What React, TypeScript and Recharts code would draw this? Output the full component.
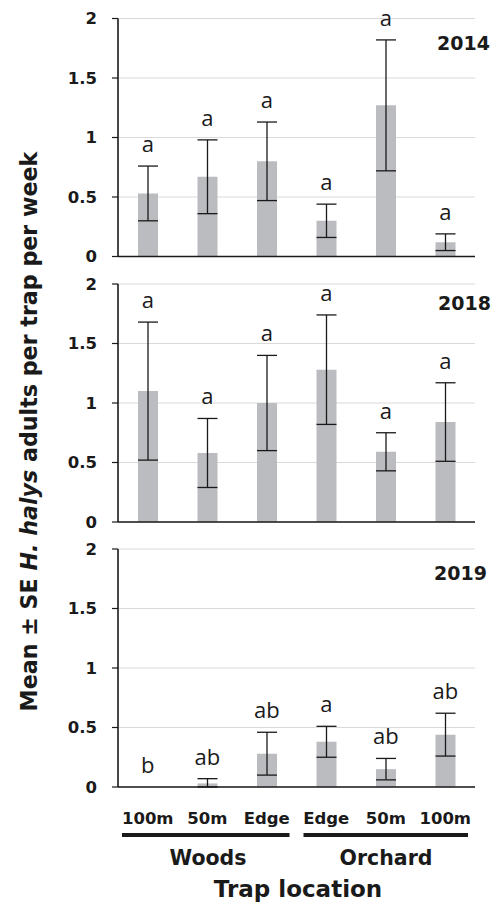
import React from "react";
import {
  ComposedChart,
  Bar,
  Line,
  XAxis,
  YAxis,
  CartesianGrid,
  ErrorBar,
  LabelList,
} from "recharts";

const categories = ["100m", "50m", "Edge", "Edge", "50m", "100m"];
const groupNames = ["Woods", "Orchard"];
const yTicks = [0, 0.5, 1, 1.5, 2];

const years = ["2014", "2018", "2019"];

const mean2014 = [0.53, 0.67, 0.8, 0.3, 1.27, 0.12];
const upper2014 = [0.76, 0.98, 1.13, 0.44, 1.82, 0.19];
const lower2014 = [0.3, 0.36, 0.47, 0.16, 0.72, 0.05];
const letters2014 = ["a", "a", "a", "a", "a", "a"];

const mean2018 = [1.1, 0.58, 1.0, 1.28, 0.59, 0.84];
const upper2018 = [1.68, 0.87, 1.4, 1.74, 0.75, 1.17];
const lower2018 = [0.52, 0.29, 0.6, 0.82, 0.43, 0.51];
const letters2018 = ["a", "a", "a", "a", "a", "a"];

const mean2019 = [0, 0.03, 0.28, 0.38, 0.15, 0.44];
const upper2019 = [0, 0.07, 0.46, 0.51, 0.24, 0.62];
const lower2019 = [0, 0.0, 0.1, 0.25, 0.06, 0.26];
const letters2019 = ["b", "ab", "ab", "a", "ab", "ab"];

const FONT = "'DejaVu Sans', sans-serif";
const W = 495;
const PLOT_LEFT = 118;
const PLOT_RIGHT_MARGIN = 20;
const PLOT_H = 238;
const BOTTOM_PAD = 12;

function buildData(means: number[], upper: number[], lower: number[], letters: string[]) {
  return categories.map((c, i) => {
    const hasErr = upper[i] > means[i] || lower[i] < means[i];
    return {
      x: i + 0.5,
      cat: c,
      mean: means[i],
      err: hasErr ? [means[i] - lower[i], upper[i] - means[i]] : null,
      hi: hasErr ? upper[i] : means[i],
      letter: letters[i],
    };
  });
}

const boundaryTicks = categories.map((_, i) => i).concat([categories.length]);
const centerTicks = categories.map((_, i) => i + 0.5);

function Panel(props: {
  data: any[];
  top: number;
  marginTop: number;
  showLabels: boolean;
}) {
  const { data, top, marginTop, showLabels } = props;
  const labH = showLabels ? 40 : 0;
  const height = marginTop + PLOT_H + 8 + labH + BOTTOM_PAD;
  return (
    <div style={{ position: "absolute", left: 0, top, width: W, height }}>
      <ComposedChart
        width={W}
        height={height}
        data={data}
        style={{ overflow: "visible" }}
        margin={{ top: marginTop, right: PLOT_RIGHT_MARGIN, left: 0, bottom: BOTTOM_PAD }}
      >
        <CartesianGrid horizontal={true} vertical={false} stroke="#d9d9d9" strokeWidth={1} />
        <XAxis
          type="number"
          dataKey="x"
          domain={[0, categories.length]}
          ticks={boundaryTicks}
          interval={0}
          tick={false}
          tickSize={7}
          height={8}
          axisLine={{ stroke: "#1a1a1a", strokeWidth: 1.6 }}
          tickLine={{ stroke: "#1a1a1a", strokeWidth: 1.2 }}
        />
        <XAxis
          xAxisId="lab"
          type="number"
          dataKey="x"
          domain={[0, categories.length]}
          ticks={centerTicks}
          interval={0}
          hide={!showLabels}
          height={labH || 1}
          axisLine={false}
          tickLine={false}
          tickSize={0}
          tickMargin={17}
          tickFormatter={(v: number) => categories[Math.floor(v)]}
          tick={{ fontFamily: FONT, fontWeight: "bold", fontSize: 16.5, fill: "#1a1a1a" }}
        />
        <YAxis
          domain={[0, 2]}
          ticks={yTicks}
          interval={0}
          width={PLOT_LEFT}
          tickSize={6}
          tickMargin={15}
          allowDataOverflow={true}
          axisLine={{ stroke: "#1a1a1a", strokeWidth: 1.6 }}
          tickLine={{ stroke: "#1a1a1a", strokeWidth: 1.2 }}
          tick={{ fontFamily: FONT, fontWeight: "bold", fontSize: 16.5, fill: "#1a1a1a" }}
        />
        <Bar dataKey="mean" fill="#bbbcbf" barSize={20} isAnimationActive={false}>
          <ErrorBar dataKey="err" direction="y" width={10} stroke="#1a1a1a" strokeWidth={1.3} />
        </Bar>
        <Line
          xAxisId="lab"
          dataKey="hi"
          stroke="none"
          dot={false}
          activeDot={false}
          isAnimationActive={false}
        >
          <LabelList
            dataKey="letter"
            position="top"
            offset={14}
            fontFamily="'Open Sans', sans-serif"
            fontSize={22}
            fill="#1a1a1a"
          />
        </Line>
      </ComposedChart>
    </div>
  );
}

export default function App() {
  const data2014 = buildData(mean2014, upper2014, lower2014, letters2014);
  const data2018 = buildData(mean2018, upper2018, lower2018, letters2018);
  const data2019 = buildData(mean2019, upper2019, lower2019, letters2019);
  const plotW = W - PLOT_LEFT - PLOT_RIGHT_MARGIN;
  const catW = plotW / categories.length;
  const woodsL = PLOT_LEFT + 4;
  const woodsR = PLOT_LEFT + 3 * catW - 7;
  const orchL = PLOT_LEFT + 3 * catW + 7;
  const orchR = PLOT_LEFT + plotW - 7;
  return (
    <div
      style={{
        position: "absolute",
        left: 0,
        top: 0,
        width: W,
        height: 906,
        background: "#fff",
        overflow: "hidden",
      }}
    >
      <Panel data={data2014} top={0} marginTop={18.5} showLabels={false} />
      <Panel data={data2018} top={264} marginTop={20} showLabels={false} />
      <Panel data={data2019} top={530} marginTop={19} showLabels={true} />
      <svg
        width={W}
        height={906}
        style={{ position: "absolute", left: 0, top: 0, pointerEvents: "none" }}
      >
        <g fontFamily={FONT} fontWeight="bold" fill="#1a1a1a">
          <text x={490} y={50} fontSize={19} textAnchor="end">{years[0]}</text>
          <text x={491} y={310} fontSize={19} textAnchor="end">{years[1]}</text>
          <text x={487} y={580} fontSize={19} textAnchor="end">{years[2]}</text>
          <line x1={woodsL} x2={woodsR} y1={835} y2={835} stroke="#1a1a1a" strokeWidth={4} />
          <line x1={orchL} x2={orchR} y1={835} y2={835} stroke="#1a1a1a" strokeWidth={4} />
          <text x={208} y={865} fontSize={20.5} textAnchor="middle">{groupNames[0]}</text>
          <text x={386} y={865} fontSize={20.5} textAnchor="middle">{groupNames[1]}</text>
          <text x={298} y={897} fontSize={23} textAnchor="middle">Trap location</text>
          <text
            transform="translate(37, 431.5) rotate(-90)"
            x={0}
            y={0}
            fontSize={22.2}
            textAnchor="middle"
          >
            Mean ± SE <tspan fontStyle="italic">H. halys</tspan> adults per trap per week
          </text>
        </g>
      </svg>
    </div>
  );
}
